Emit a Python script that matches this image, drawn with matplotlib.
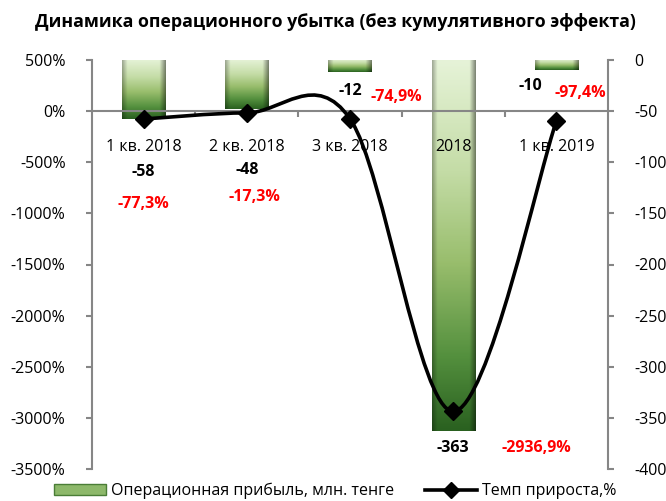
import numpy as np
import matplotlib
matplotlib.use('Agg')
import matplotlib.pyplot as plt
from matplotlib.path import Path
from matplotlib.patches import PathPatch, Patch
from matplotlib.lines import Line2D
from matplotlib.colors import LinearSegmentedColormap

plt.rcParams['font.family'] = ['Open Sans', 'DejaVu Sans']

# ---- data ----
categories = ['1 кв. 2018', '2 кв. 2018', '3 кв. 2018', '2018', '1 кв. 2019']
profit = [-58, -48, -12, -363, -10]
growth = [-77.3, -17.3, -74.9, -2936.9, -97.4]
profit_labels = ['-58', '-48', '-12', '-363', '-10']
growth_labels = ['-77,3%', '-17,3%', '-74,9%', '-2936,9%', '-97,4%']
left_ticks = list(range(500, -3501, -500))
right_ticks = list(range(0, -401, -50))
title = 'Динамика операционного убытка (без кумулятивного эффекта)'
legend_labels = ['Операционная прибыль, млн. тенге', 'Темп прироста,%']

GREY = '#868686'
W, H = 666, 501
fig = plt.figure(figsize=(W / 100, H / 100), dpi=100)
ax = fig.add_axes([92 / W, 1 - 469 / H, (608 - 92) / W, (469 - 60) / H])
ax2 = ax.twinx()
ax.set_zorder(ax2.get_zorder() + 1)
ax.patch.set_visible(False)

x = np.arange(len(categories))

# ---- bars (right axis) with gradient fill ----
bars = ax2.bar(x, profit, width=0.42, facecolor='none', edgecolor='none', zorder=2)
stops = [(0.0, '#e6f3d8'), (0.3, '#c4dca6'), (0.55, '#98bd6c'),
         (0.8, '#54903e'), (1.0, '#2a6120')]
cmap = LinearSegmentedColormap.from_list('g', stops)
ny, nx = 200, 60
t = np.linspace(0, 1, ny)[:, None]
u = np.linspace(0, 1, nx)[None, :]
base = cmap(np.repeat(t, nx, axis=1))[..., :3]
shade = 1 - 0.30 * np.clip((0.12 - u) / 0.12, 0, 1) - 0.45 * np.clip((u - 0.86) / 0.14, 0, 1)
img = np.clip(base * shade[..., None], 0, 1)
for rect in bars:
    x0, w = rect.get_x(), rect.get_width()
    y0, h = rect.get_y(), rect.get_height()
    im = ax2.imshow(img, extent=[x0, x0 + w, y0 + h, y0], origin='upper',
                    aspect='auto', zorder=2, interpolation='bilinear')
    im.set_clip_path(rect)

ax2.set_ylim(-400, 0)
ax2.set_yticks(right_ticks)
ax2.set_yticklabels([str(v) for v in right_ticks])

# ---- smoothed line (left axis) ----
pts = np.column_stack([x, growth]).astype(float)
n = len(pts)
verts = [pts[0]]
codes = [Path.MOVETO]
for i in range(n - 1):
    p0 = pts[i - 1] if i > 0 else pts[i]
    p1 = pts[i]
    p2 = pts[i + 1]
    p3 = pts[i + 2] if i + 2 < n else pts[i + 1]
    c1 = p1 + (p2 - p0) / 6
    c2 = p2 - (p3 - p1) / 6
    verts += [c1, c2, p2]
    codes += [Path.CURVE4] * 3
ax.add_patch(PathPatch(Path(verts, codes), facecolor='none', edgecolor='black',
                       lw=2.6, zorder=3, capstyle='round', joinstyle='round'))
ax.plot(x, growth, ls='none', marker='D', ms=9, color='black', zorder=4)

ax.set_ylim(-3500, 500)
ax.set_xlim(-0.5, 4.5)
ax.set_yticks(left_ticks)
ax.set_yticklabels([f'{v}%' for v in left_ticks])

# ---- axes styling ----
for s in ['top', 'right']:
    ax.spines[s].set_visible(False)
ax.spines['left'].set_color(GREY)
ax.spines['left'].set_linewidth(1.5)
ax.spines['bottom'].set_position(('data', 0))
ax.spines['bottom'].set_color(GREY)
ax.spines['bottom'].set_linewidth(1.5)
for s in ['top', 'left', 'bottom']:
    ax2.spines[s].set_visible(False)
ax2.spines['right'].set_color(GREY)
ax2.spines['right'].set_linewidth(1.5)

ax.set_xticks(x)
ax.set_xticklabels(categories)
ax.set_xticks([0.5, 1.5, 2.5, 3.5], minor=True)
ax.tick_params(axis='x', which='major', length=0, pad=20, labelsize=11.5)
ax.tick_params(axis='x', which='minor', length=4, color=GREY, width=1.5, direction='out')
ax.tick_params(axis='y', length=4, color=GREY, width=1.5, pad=15, labelsize=11.5)
ax2.tick_params(axis='y', length=4, color=GREY, width=1.5, pad=15, labelsize=11.5)

# ---- data labels ----
p_dx = [0, 0, 0, 0, -26]
p_dy = [-53, -61, -19, -17, -16]
for i, (v, lab) in enumerate(zip(profit, profit_labels)):
    ax2.annotate(lab, (x[i], v), xytext=(p_dx[i], p_dy[i]), textcoords='offset pixels',
                 ha='center', va='center', fontsize=11.5, fontweight='bold', color='black',
                 zorder=5)
g_dx = [0, 8, 46, 83, 24]
g_dy = [-85, -84, 22, -37, 28]
for i, (v, lab) in enumerate(zip(growth, growth_labels)):
    ax.annotate(lab, (x[i], v), xytext=(g_dx[i], g_dy[i]), textcoords='offset pixels',
                ha='center', va='center', fontsize=11.5, fontweight='bold', color='#ff0000',
                zorder=5)

# ---- title ----
fig.text(335 / W, 1 - 22 / H, title, ha='center', va='center', fontsize=12.8,
         fontweight='bold')

# ---- legend ----
handles = [Patch(facecolor='#8db86a', edgecolor='#4a7d36'),
           Line2D([], [], color='black', lw=2.6, marker='D', ms=8)]
fig.legend(handles=handles, labels=legend_labels, loc='center',
           bbox_to_anchor=(335 / W, 1 - 491 / H), ncol=2, frameon=False,
           handlelength=3.3, columnspacing=1.9, fontsize=11.5, handletextpad=0.3)

fig.savefig('out.png', dpi=100)
